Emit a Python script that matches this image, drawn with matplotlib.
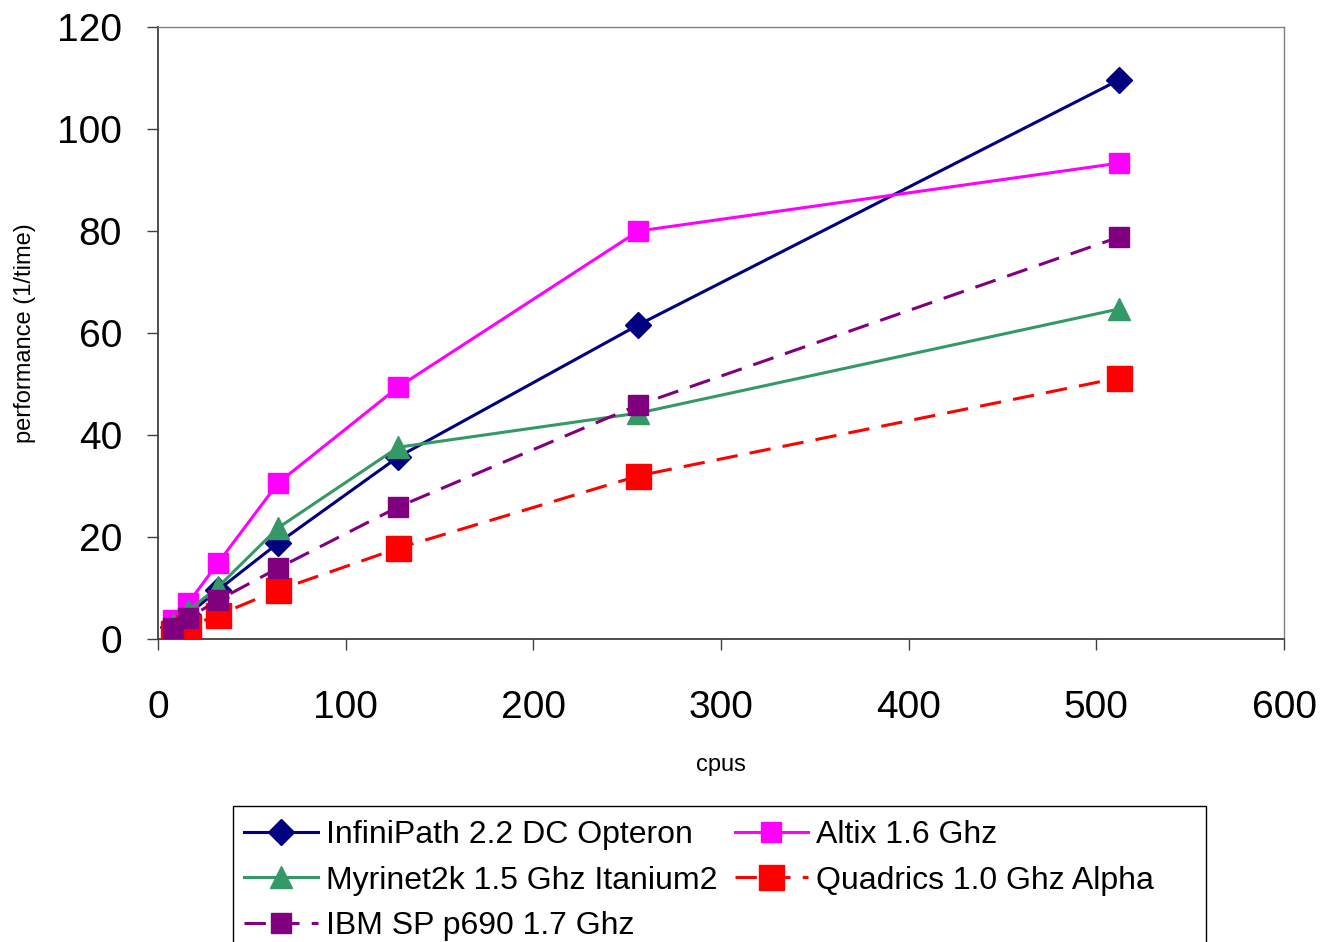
import matplotlib
matplotlib.use("Agg")
import matplotlib.pyplot as plt
from matplotlib.patches import Rectangle

plt.rcParams['font.family'] = ['Liberation Sans', 'DejaVu Sans']

cpus = [8, 16, 32, 64, 128, 256, 512]
infinipath = [2.4, 4.8, 9.6, 18.8, 35.7, 61.6, 109.6]
altix = [3.7, 7.0, 14.9, 30.6, 49.4, 80.0, 93.3]
myrinet = [2.7, 5.5, 10.2, 21.8, 37.6, 44.3, 64.7]
quadrics = [1.2, 2.4, 4.7, 9.6, 17.8, 32.0, 51.2]
ibm = [2.1, 4.1, 7.6, 13.9, 25.9, 45.9, 78.8]

labels = ["InfiniPath 2.2 DC Opteron", "Altix 1.6 Ghz",
          "Myrinet2k 1.5 Ghz Itanium2", "Quadrics 1.0 Ghz Alpha",
          "IBM SP p690 1.7 Ghz"]

W, H = 1326, 942
fig = plt.figure(figsize=(W/100, H/100), dpi=100)
ax = fig.add_axes([158/W, 1-639/H, (1284-158)/W, (639-27)/H])

lw = 2.2
h1, = ax.plot(cpus, infinipath, color='#000080', lw=lw, marker='D', ms=13, label=labels[0], zorder=3)
h2, = ax.plot(cpus, altix, color='#FF00FF', lw=lw, marker='s', ms=14, label=labels[1], zorder=3)
h3, = ax.plot(cpus, myrinet, color='#339966', lw=lw, marker='^', ms=16, label=labels[2], zorder=3)
h4, = ax.plot(cpus, quadrics, color='#FF0000', lw=lw, marker='s', ms=18, label=labels[3],
              dashes=(7, 4), zorder=3)
h5, = ax.plot(cpus, ibm, color='#800080', lw=lw, marker='s', ms=15, label=labels[4],
              dashes=(7, 4), zorder=3)

ax.set_xlim(0, 600)
ax.set_ylim(0, 120)
ax.set_xticks(range(0, 601, 100))
ax.set_yticks(range(0, 121, 20))
ax.tick_params(axis='both', labelsize=28, direction='out', length=8, width=1, color='#404040')
ax.tick_params(axis='x', pad=29)
ax.tick_params(axis='y', pad=18)
for s in ['left', 'bottom']:
    ax.spines[s].set_color('#404040')
    ax.spines[s].set_linewidth(1.3)
for s in ['top', 'right']:
    ax.spines[s].set_color('#808080')
    ax.spines[s].set_linewidth(1)

ax.set_xlabel('cpus', fontsize=17, labelpad=20)
ax.set_ylabel('performance (1/time)', fontsize=17, labelpad=15)

# legend frame drawn separately (extends beyond the bottom edge as in the reference)
fig.patches.append(Rectangle((233/W, -0.05), (1206-233)/W, (1-806/H) + 0.05,
                             transform=fig.transFigure, fill=False,
                             edgecolor='black', lw=1.0, zorder=1))

leg = fig.legend(handles=[h1, h3, h5, h2, h4], loc='upper left',
                 bbox_to_anchor=(233/W, 1-809/H), borderaxespad=0, ncol=2,
                 fontsize=23, frameon=False,
                 handlelength=2.3, handletextpad=0.25, columnspacing=0.55,
                 labelspacing=0.48, borderpad=0.35, markerscale=1.0, numpoints=1)

fig.savefig('out.png', dpi=100)
